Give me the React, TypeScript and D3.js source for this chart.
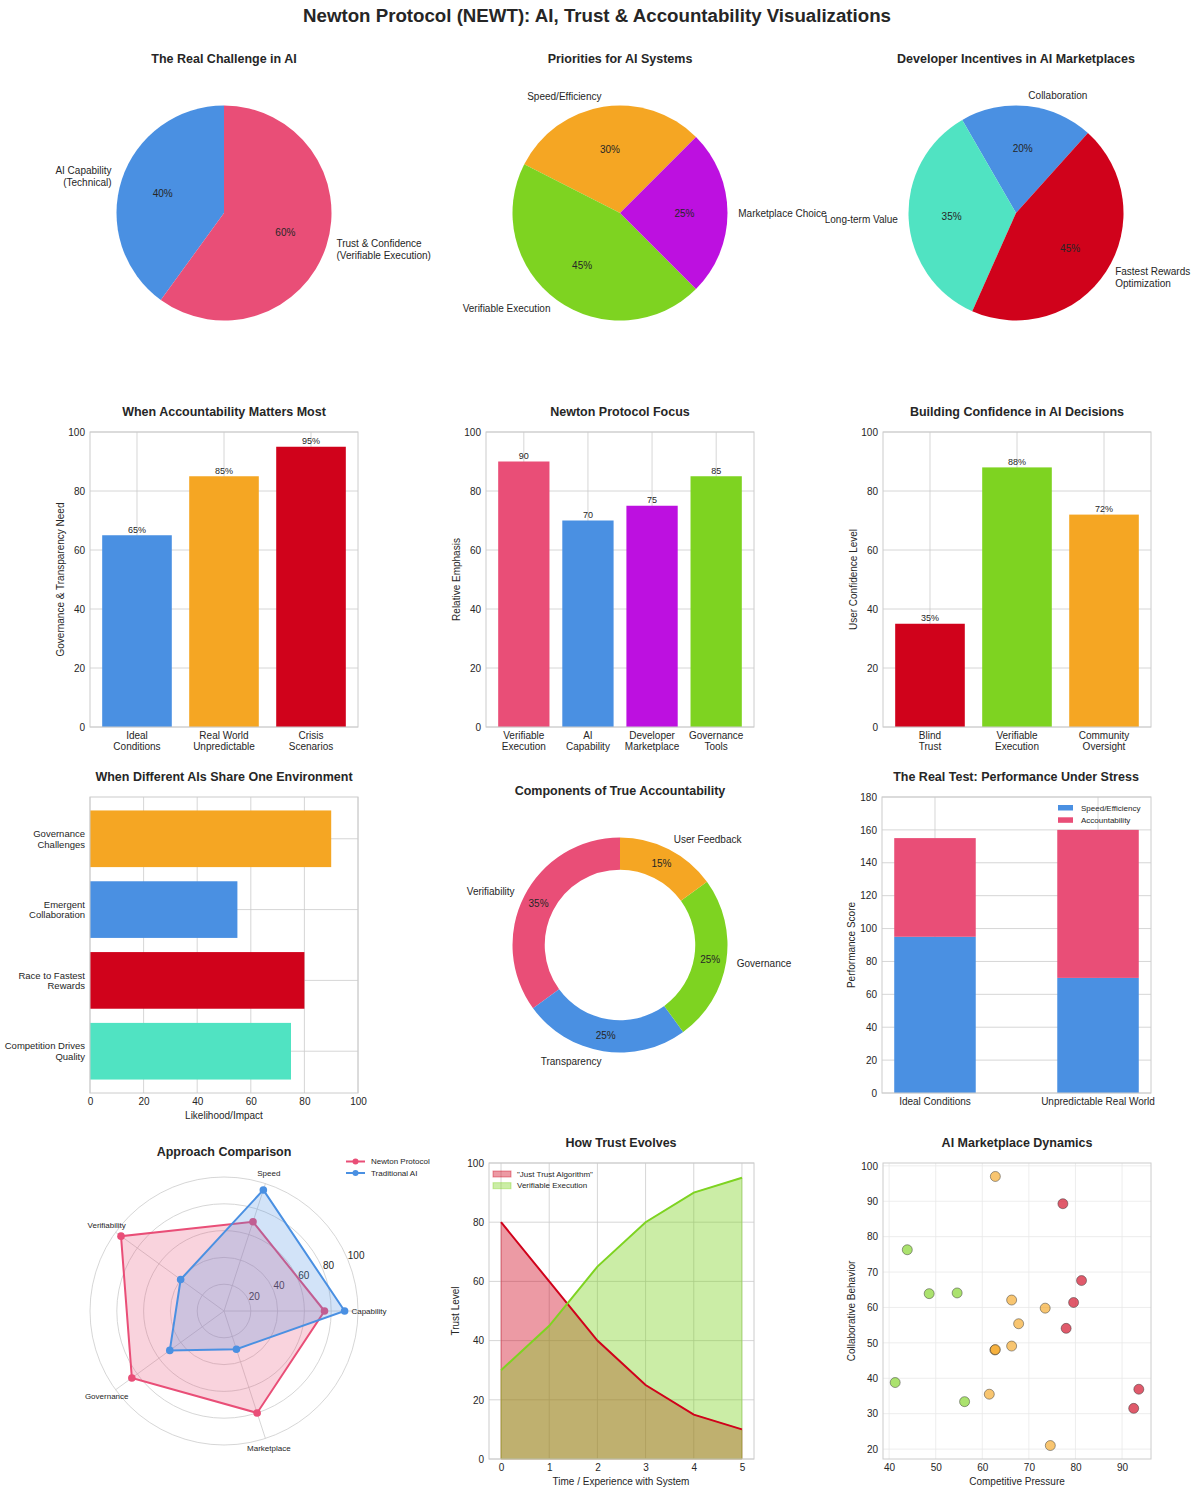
import * as d3 from 'd3';
import * as React from 'react';
import { useEffect, useRef } from 'react';

type Sel = d3.Selection<any, any, any, any>;

const BLUE = '#4a90e2';
const PINK = '#e94e77';
const ORANGE = '#f5a623';
const RED = '#d0021b';
const GREEN = '#7ed321';
const PURPLE = '#bd10e0';
const TEAL = '#50e3c2';
const INK = '#262626';
const GRID = '#cccccc';
const FONT = '"Liberation Sans", Arial, sans-serif';

// row 1: pies
const challengeNames = ['AI Capability\n(Technical)', 'Trust & Confidence\n(Verifiable Execution)'];
const challengeValues = [40, 60];
const priorityNames = ['Speed/Efficiency', 'Verifiable Execution', 'Marketplace Choice'];
const priorityValues = [30, 45, 25];
const incentiveNames = ['Collaboration', 'Long-term Value', 'Fastest Rewards\nOptimization'];
const incentiveValues = [20, 35, 45];

// row 2: bars
const accountabilityCats = ['Ideal\nConditions', 'Real World\nUnpredictable', 'Crisis\nScenarios'];
const accountabilityValues = [65, 85, 95];
const focusCats = ['Verifiable\nExecution', 'AI\nCapability', 'Developer\nMarketplace', 'Governance\nTools'];
const focusValues = [90, 70, 75, 85];
const confidenceCats = ['Blind\nTrust', 'Verifiable\nExecution', 'Community\nOversight'];
const confidenceValues = [35, 88, 72];

// row 3
const sharedCats = ['Competition Drives\nQuality', 'Race to Fastest\nRewards', 'Emergent\nCollaboration', 'Governance\nChallenges'];
const sharedValues = [75, 80, 55, 90];
const componentNames = ['Verifiability', 'Transparency', 'Governance', 'User Feedback'];
const componentValues = [35, 25, 25, 15];
const stressCats = ['Ideal Conditions', 'Unpredictable Real World'];
const speedScores = [95, 70];
const accountabilityScores = [60, 90];

// row 4
const radarAxes = ['Capability', 'Speed', 'Verifiability', 'Governance', 'Marketplace'];
const newtonScores = [75, 70, 95, 85, 80];
const traditionalScores = [90, 95, 40, 50, 30];
const trustTime = [0, 1, 2, 3, 4, 5];
const justTrust = [80, 60, 40, 25, 15, 10];
const verifiableTrust = [30, 45, 65, 80, 90, 95];
const marketOrange = [[62.8, 97.0], [66.3, 62.1], [73.5, 59.8], [67.8, 55.4], [66.3, 49.1], [62.7, 48.0], [62.8, 48.1], [61.5, 35.5], [74.6, 21.0]];
const marketRed = [[77.3, 89.3], [81.3, 67.6], [79.6, 61.4], [78.0, 54.1], [93.6, 36.9], [92.5, 31.5]];
const marketGreen = [[43.9, 76.3], [48.6, 63.9], [54.6, 64.1], [41.3, 38.8], [56.2, 33.4]];

const rad = (deg: number) => (deg * Math.PI) / 180;

function label(g: Sel, x: number, y: number, s: string, size = 10, anchor = 'middle', weight = 'normal') {
  return g.append('text')
    .attr('x', x).attr('y', y)
    .attr('font-size', size)
    .attr('text-anchor', anchor)
    .attr('font-weight', weight)
    .attr('fill', INK)
    .attr('dominant-baseline', 'central')
    .text(s);
}

function lines(g: Sel, x: number, cy: number, s: string, size: number, anchor: string, lh: number) {
  const parts = s.split('\n');
  parts.forEach((p, i) => label(g, x, cy + (i - (parts.length - 1) / 2) * lh, p, size, anchor));
}

function ylab(g: Sel, x: number, cy: number, s: string) {
  label(g, 0, 0, s).attr('transform', `translate(${x},${cy}) rotate(-90)`);
}

function title(g: Sel, x: number, y: number, s: string) {
  label(g, x, y, s, 12.5, 'middle', 'bold');
}

function grid(g: Sel, x: any, y: any, xt: number[], yt: number[], color = GRID) {
  const [x0, x1] = x.range();
  const [y0, y1] = y.range();
  g.append('g').selectAll('line').data(yt).join('line')
    .attr('x1', x0).attr('x2', x1)
    .attr('y1', (d: number) => y(d)).attr('y2', (d: number) => y(d))
    .attr('stroke', color).attr('stroke-width', 0.8);
  g.append('g').selectAll('line').data(xt).join('line')
    .attr('y1', y0).attr('y2', y1)
    .attr('x1', (d: number) => x(d)).attr('x2', (d: number) => x(d))
    .attr('stroke', color).attr('stroke-width', 0.8);
}

function spine(g: Sel, x: any, y: any) {
  const [x0, x1] = x.range();
  const [y0, y1] = y.range();
  g.append('rect')
    .attr('x', x0).attr('y', y1).attr('width', x1 - x0).attr('height', y0 - y1)
    .attr('fill', 'none').attr('stroke', GRID).attr('stroke-width', 1);
}

function styleAxis(ax: Sel) {
  ax.select('.domain').remove();
  ax.attr('font-family', FONT).attr('font-size', 10);
  ax.selectAll('text').attr('fill', INK);
}

function yAxis(g: Sel, y: any, left: number, ticks: number[]) {
  const ax = g.append('g').attr('transform', `translate(${left},0)`)
    .call(d3.axisLeft(y).tickValues(ticks).tickFormat(d3.format('d')).tickSize(0).tickPadding(5));
  styleAxis(ax);
}

function xAxis(g: Sel, x: any, bottom: number, ticks: number[]) {
  const ax = g.append('g').attr('transform', `translate(0,${bottom})`)
    .call(d3.axisBottom(x).tickValues(ticks).tickFormat(d3.format('d')).tickSize(0).tickPadding(5));
  styleAxis(ax);
}

function drawPie(g: Sel, cx: number, cy: number, r: number, values: number[], names: string[],
  colors: string[], start: number, inner: number, pctDist: number) {
  const arcs = d3.pie<number>().sort(null)
    .startAngle(rad(90 - start))
    .endAngle(rad(90 - start - 360))(values);
  const arc = d3.arc<any>().innerRadius(inner * r).outerRadius(r);
  const pg = g.append('g').attr('transform', `translate(${cx},${cy})`);
  pg.selectAll('path').data(arcs).join('path')
    .attr('d', arc)
    .attr('fill', (d: any, i: number) => colors[i]);
  arcs.forEach((a, i) => {
    const m = (a.startAngle + a.endAngle) / 2;
    const dx = Math.sin(m);
    const dy = -Math.cos(m);
    lines(g, cx + 1.1 * r * dx, cy + 1.1 * r * dy, names[i], 10, dx >= 0 ? 'start' : 'end', 11.3);
    label(g, cx + pctDist * r * dx, cy + pctDist * r * dy, `${values[i]}%`, 10);
  });
}

function drawBars(g: Sel, left: number, top: number, width: number, height: number, cats: string[],
  vals: number[], colors: string[], suffix: string, yName: string, name: string) {
  const n = cats.length;
  const pad = 0.05 * (n - 1 + 0.8);
  const x = d3.scaleLinear().domain([-0.4 - pad, n - 1 + 0.4 + pad]).range([left, left + width]);
  const y = d3.scaleLinear().domain([0, 100]).range([top + height, top]);
  const idx = d3.range(n);
  grid(g, x, y, idx, y.ticks(5));
  g.append('g').selectAll('rect').data(vals).join('rect')
    .attr('x', (d: number, i: number) => x(i - 0.4))
    .attr('width', x(0.8) - x(0))
    .attr('y', (d: number) => y(d))
    .attr('height', (d: number) => y(0) - y(d))
    .attr('fill', (d: number, i: number) => colors[i]);
  spine(g, x, y);
  vals.forEach((v, i) => {
    g.append('text').attr('x', x(i)).attr('y', y(v) - 2.5)
      .attr('text-anchor', 'middle').attr('font-size', 9).attr('fill', INK)
      .text(`${v}${suffix}`);
  });
  yAxis(g, y, left, y.ticks(5));
  cats.forEach((c, i) => {
    c.split('\n').forEach((p, j) => label(g, x(i), top + height + 8 + j * 11.5, p, 10));
  });
  ylab(g, left - 30, top + height / 2, yName);
  title(g, left + width / 2, top - 20, name);
}

function draw(svg: Sel) {
  svg.append('rect').attr('width', 1200).attr('height', 1495).attr('fill', '#fff');
  const g = svg.append('g');

  label(g, 597, 15, 'Newton Protocol (NEWT): AI, Trust & Accountability Visualizations', 18.7, 'middle', 'bold');

  // row 1
  title(g, 224, 59, 'The Real Challenge in AI');
  drawPie(g, 224, 213, 107.5, challengeValues, challengeNames, [BLUE, PINK], 90, 0, 0.6);
  title(g, 620, 59, 'Priorities for AI Systems');
  drawPie(g, 620, 213, 107.5, priorityValues, priorityNames, [ORANGE, GREEN, PURPLE], 45, 0, 0.6);
  title(g, 1016, 59, 'Developer Incentives in AI Marketplaces');
  drawPie(g, 1016, 213, 107.5, incentiveValues, incentiveNames, [BLUE, TEAL, RED], 48, 0, 0.6);

  // row 2
  drawBars(g, 90, 432, 268, 295, accountabilityCats, accountabilityValues, [BLUE, ORANGE, RED], '%',
    'Governance & Transparency Need', 'When Accountability Matters Most');
  drawBars(g, 486, 432, 268, 295, focusCats, focusValues, [PINK, BLUE, PURPLE, GREEN], '',
    'Relative Emphasis', 'Newton Protocol Focus');
  drawBars(g, 883, 432, 268, 295, confidenceCats, confidenceValues, [RED, GREEN, ORANGE], '%',
    'User Confidence Level', 'Building Confidence in AI Decisions');

  // row 3: horizontal bars
  {
    const n = sharedCats.length;
    const pad = 0.05 * (n - 1 + 0.8);
    const x = d3.scaleLinear().domain([0, 100]).range([90, 358]);
    const y = d3.scaleLinear().domain([-0.4 - pad, n - 1 + 0.4 + pad]).range([1093, 797]);
    const colors = [TEAL, RED, BLUE, ORANGE];
    grid(g, x, y, x.ticks(5), d3.range(n));
    g.append('g').selectAll('rect').data(sharedValues).join('rect')
      .attr('x', x(0))
      .attr('width', (d: number) => x(d) - x(0))
      .attr('y', (d: number, i: number) => y(i + 0.4))
      .attr('height', y(0) - y(0.8))
      .attr('fill', (d: number, i: number) => colors[i]);
    spine(g, x, y);
    xAxis(g, x, 1093, x.ticks(5));
    sharedCats.forEach((c, i) => lines(g, 85, y(i), c, 9.5, 'end', 10.5));
    label(g, 224, 1115, 'Likelihood/Impact');
    title(g, 224, 777, 'When Different AIs Share One Environment');
  }

  // row 3: donut
  title(g, 620, 791, 'Components of True Accountability');
  drawPie(g, 620, 945, 107.5, componentValues, componentNames, [PINK, BLUE, GREEN, ORANGE], 90, 0.7, 0.85);

  // row 3: stacked bars
  {
    const x = d3.scaleLinear().domain([-0.325, 1.325]).range([882, 1151]);
    const y = d3.scaleLinear().domain([0, 180]).range([1093, 797]);
    const rows = stressCats.map((c, i) => ({ speed: speedScores[i], acc: accountabilityScores[i] }));
    const series = d3.stack<any>().keys(['speed', 'acc'])(rows);
    const colors = [BLUE, PINK];
    grid(g, x, y, [0, 1], y.ticks(9));
    series.forEach((s, k) => {
      g.append('g').selectAll('rect').data(s).join('rect')
        .attr('x', (d: any, i: number) => x(i - 0.25))
        .attr('width', x(0.5) - x(0))
        .attr('y', (d: any) => y(d[1]))
        .attr('height', (d: any) => y(d[0]) - y(d[1]))
        .attr('fill', colors[k]);
    });
    spine(g, x, y);
    yAxis(g, y, 882, y.ticks(9));
    stressCats.forEach((c, i) => label(g, x(i), 1101.5, c, 10));
    ylab(g, 851, 945, 'Performance Score');
    title(g, 1016, 777, 'The Real Test: Performance Under Stress');
    ['Speed/Efficiency', 'Accountability'].forEach((s, i) => {
      g.append('rect').attr('x', 1058).attr('y', 805 + i * 12.3).attr('width', 15).attr('height', 5.5).attr('fill', colors[i]);
      label(g, 1081, 808 + i * 12.3, s, 8, 'start');
    });
  }

  // row 4: radar
  {
    const cx = 224;
    const cy = 1311;
    const r = d3.scaleLinear().domain([0, 100]).range([0, 134]);
    const step = 360 / radarAxes.length;
    const ang = (i: number) => rad(90 - i * step);
    [20, 40, 60, 80, 100].forEach((t) => {
      g.append('circle').attr('cx', cx).attr('cy', cy).attr('r', r(t))
        .attr('fill', 'none').attr('stroke', GRID).attr('stroke-width', 0.8);
    });
    radarAxes.forEach((a, i) => {
      const th = rad(i * step);
      g.append('line').attr('x1', cx).attr('y1', cy)
        .attr('x2', cx + r(100) * Math.cos(th)).attr('y2', cy - r(100) * Math.sin(th))
        .attr('stroke', GRID).attr('stroke-width', 0.8);
      label(g, cx + 145 * Math.cos(th), cy - 145 * Math.sin(th), a, 8);
    });
    [20, 40, 60, 80, 100].forEach((t) => {
      const th = rad(22.5);
      g.append('text').attr('x', cx + r(t) * Math.cos(th)).attr('y', cy - r(t) * Math.sin(th) - 1)
        .attr('font-size', 10).attr('fill', INK).text(String(t));
    });
    const radial = d3.lineRadial<number>()
      .angle((d, i) => ang(i))
      .radius((d) => r(d))
      .curve(d3.curveLinearClosed);
    const series: [number[], string][] = [[newtonScores, PINK], [traditionalScores, BLUE]];
    const pg = g.append('g').attr('transform', `translate(${cx},${cy})`);
    series.forEach(([vals, col]) => {
      pg.append('path').attr('d', radial(vals)).attr('fill', col).attr('fill-opacity', 0.25)
        .attr('stroke', col).attr('stroke-width', 2);
      vals.forEach((v, i) => {
        const th = rad(i * step);
        pg.append('circle').attr('cx', r(v) * Math.cos(th)).attr('cy', -r(v) * Math.sin(th))
          .attr('r', 3.8).attr('fill', col);
      });
    });
    title(g, 224, 1152, 'Approach Comparison');
    [['Newton Protocol', PINK], ['Traditional AI', BLUE]].forEach(([s, col], i) => {
      const yy = 1161.5 + i * 11.5;
      g.append('line').attr('x1', 346).attr('x2', 365).attr('y1', yy).attr('y2', yy).attr('stroke', col).attr('stroke-width', 2);
      g.append('circle').attr('cx', 355.5).attr('cy', yy).attr('r', 3).attr('fill', col);
      label(g, 371, yy, s, 8, 'start');
    });
  }

  // row 4: area
  {
    const x = d3.scaleLinear().domain([-0.25, 5.25]).range([489, 754]);
    const y = d3.scaleLinear().domain([0, 100]).range([1459, 1163]);
    grid(g, x, y, trustTime, y.ticks(5));
    const area = (vals: number[]) => d3.area<number>()
      .x((d, i) => x(trustTime[i])).y0(y(0)).y1((d) => y(d))(vals);
    const line = (vals: number[]) => d3.line<number>()
      .x((d, i) => x(trustTime[i])).y((d) => y(d))(vals);
    const series: [number[], string][] = [[justTrust, RED], [verifiableTrust, GREEN]];
    series.forEach(([vals, col]) => {
      g.append('path').attr('d', area(vals)).attr('fill', col).attr('fill-opacity', 0.4)
        .attr('stroke', col).attr('stroke-opacity', 0.4).attr('stroke-width', 1);
    });
    series.forEach(([vals, col]) => {
      g.append('path').attr('d', line(vals)).attr('fill', 'none').attr('stroke', col).attr('stroke-width', 2);
    });
    spine(g, x, y);
    yAxis(g, y, 489, y.ticks(5));
    xAxis(g, x, 1459, trustTime);
    ylab(g, 455, 1311, 'Trust Level');
    label(g, 621, 1481.5, 'Time / Experience with System');
    title(g, 621, 1143, 'How Trust Evolves');
    [['"Just Trust Algorithm"', RED], ['Verifiable Execution', GREEN]].forEach(([s, col], i) => {
      const yy = 1174 + i * 11.7;
      g.append('rect').attr('x', 493).attr('y', yy - 3).attr('width', 18).attr('height', 6)
        .attr('fill', col).attr('fill-opacity', 0.4).attr('stroke', col).attr('stroke-opacity', 0.4);
      label(g, 517, yy, s, 8, 'start');
    });
  }

  // row 4: scatter
  {
    const all = [...marketOrange, ...marketRed, ...marketGreen];
    const xe = d3.extent(all, (d) => d[0]) as [number, number];
    const ye = d3.extent(all, (d) => d[1]) as [number, number];
    const px = (xe[1] - xe[0]) * 0.05;
    const py = (ye[1] - ye[0]) * 0.05;
    const x = d3.scaleLinear().domain([xe[0] - px, xe[1] + px]).range([883, 1151]);
    const y = d3.scaleLinear().domain([ye[0] - py, ye[1] + py]).range([1459, 1163]);
    const xt = d3.range(40, 91, 10);
    const yt = d3.range(20, 101, 10);
    grid(g, x, y, xt, yt, '#e8e8e8');
    const groups: [number[][], string][] = [[marketOrange, ORANGE], [marketRed, RED], [marketGreen, GREEN]];
    groups.forEach(([pts, col]) => {
      g.append('g').selectAll('circle').data(pts).join('circle')
        .attr('cx', (d: number[]) => x(d[0]))
        .attr('cy', (d: number[]) => y(d[1]))
        .attr('r', 5)
        .attr('fill', col).attr('fill-opacity', 0.65)
        .attr('stroke', '#333').attr('stroke-opacity', 0.8).attr('stroke-width', 0.6);
    });
    spine(g, x, y);
    yAxis(g, y, 883, yt);
    xAxis(g, x, 1459, xt);
    ylab(g, 851, 1311, 'Collaborative Behavior');
    label(g, 1017, 1481.5, 'Competitive Pressure');
    title(g, 1017, 1143, 'AI Marketplace Dynamics');
  }
}

export default function App() {
  const ref = useRef<SVGSVGElement>(null);
  useEffect(() => {
    const svg = d3.select(ref.current);
    svg.selectAll('*').remove();
    draw(svg);
  }, []);
  return (
    <svg
      ref={ref}
      width={1200}
      height={1495}
      fontFamily={FONT}
      style={{ position: 'absolute', left: 0, top: 0 }}
    />
  );
}
